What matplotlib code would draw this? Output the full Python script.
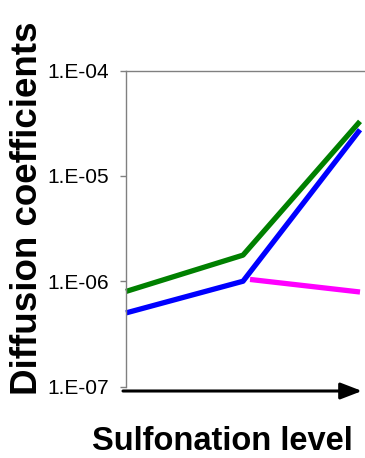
import numpy as np
import matplotlib
matplotlib.use("Agg")
import matplotlib.pyplot as plt
import matplotlib.ticker as ticker

# sulfonation steps (low / mid / high) and measured diffusion coefficients
levels = [0, 1, 2]
green_d = [8.0e-7, 1.77e-6, 3.3e-5]
blue_d = [5.0e-7, 1.0e-6, 2.75e-5]
magenta_x = [1.06, 2]
magenta_d = [1.04e-6, 7.9e-7]

y_ticks = [1e-7, 1e-6, 1e-5, 1e-4]
y_labels = ["1.E-07", "1.E-06", "1.E-05", "1.E-04"]

plt.rcParams['font.family'] = ['Liberation Sans', 'DejaVu Sans']

fig = plt.figure(figsize=(3.65, 4.58), dpi=100)
ax = fig.add_axes([126/365, 1 - 386.5/458, 1 - 126/365, (386.5 - 70.7)/458])

lw = 3.8
ax.plot(levels, green_d, color="#008000", lw=lw, solid_capstyle="butt", clip_on=False)
ax.plot(levels, blue_d, color="#0000ff", lw=lw, solid_capstyle="butt", clip_on=False)
ax.plot(magenta_x, magenta_d, color="#ff00ff", lw=lw, solid_capstyle="butt", clip_on=False)

ax.set_yscale("log")
ax.set_ylim(1e-7, 1e-4)
ax.set_xlim(0, 2 * 239 / 234)
ax.yaxis.set_major_locator(ticker.FixedLocator(y_ticks))
ax.yaxis.set_major_formatter(ticker.FixedFormatter(y_labels))
ax.yaxis.set_minor_locator(ticker.NullLocator())
ax.set_xticks([])
ax.tick_params(axis="y", length=4, width=1, color="#808080", pad=8, labelsize=15)

for side in ["right", "bottom"]:
    ax.spines[side].set_visible(False)
ax.spines["left"].set_color("#808080")
ax.spines["top"].set_color("#808080")
ax.spines["left"].set_linewidth(1)
ax.spines["top"].set_linewidth(1)

# x axis drawn as an arrow
ax.annotate("", xy=(362/365, 1 - 391/458), xytext=(123/365, 1 - 391/458),
            xycoords="figure fraction", textcoords="figure fraction",
            arrowprops=dict(arrowstyle="-|>,head_length=1.3,head_width=0.5",
                            color="black", lw=2.2, shrinkA=0, shrinkB=0))

fig.text(28/365, 1 - 208.5/458, "Diffusion coefficients", rotation=90,
         ha="center", va="center", fontsize=26.5, fontweight="bold")
fig.text(222.5/365, 1.5/458, "Sulfonation level", ha="center",
         va="bottom", fontsize=23.5, fontweight="bold")

fig.savefig("out.png", dpi=100)
